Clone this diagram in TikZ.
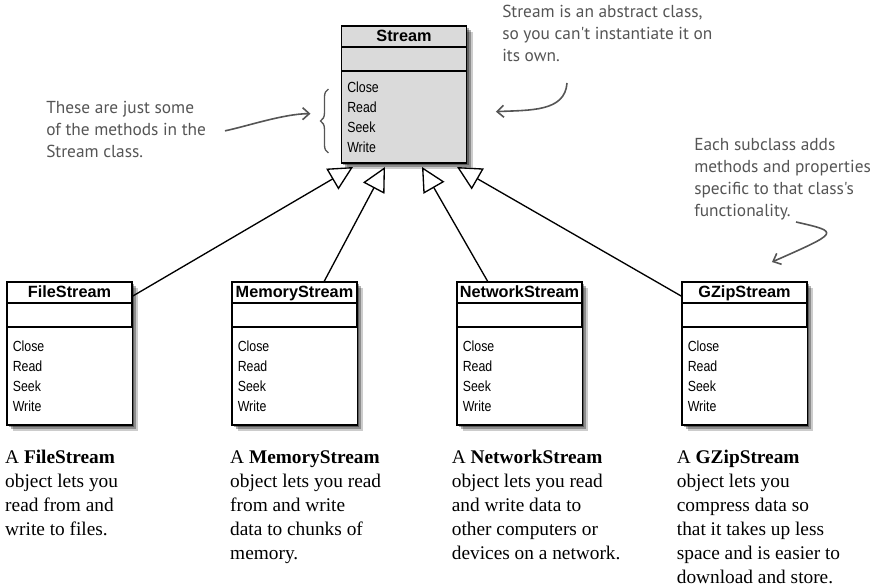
\documentclass[tikz,border=0pt]{standalone}
\usepackage{fontspec}
\setmainfont{Liberation Serif}
\newfontfamily\umlsans{Liberation Sans}
\newfontfamily\umlnarrow[FakeStretch=0.84]{Liberation Sans}
\newfontfamily\handfont{PT Sans}
\usepackage{xcolor}
\usepackage{tikz}
\usetikzlibrary{arrows.meta,positioning,shadows,decorations.pathreplacing}
\definecolor{streamgray}{RGB}{218,218,218}
\definecolor{pencil}{RGB}{85,85,85}

\begin{document}
\begin{tikzpicture}[x=0.75pt,y=-0.75pt,
  shadowed/.style={drop shadow={shadow xshift=4.5pt,shadow yshift=-4.5pt,opacity=0.2,fill=black},
                   drop shadow={shadow xshift=3pt,shadow yshift=-3pt,opacity=0.3,fill=black},
                   drop shadow={shadow xshift=1.5pt,shadow yshift=-1.5pt,opacity=0.35,fill=black}},
  clshead/.style={rectangle,draw,line width=0.8pt,outer sep=0pt,inner sep=0pt,fill=white,shadowed,minimum width=93.75pt,minimum height=15.75pt,text height=9pt,text depth=0.8pt,font=\umlsans\fontsize{12.2}{13}\selectfont\bfseries},
  clsattr/.style={clshead,minimum height=18pt,font=},
  clsops/.style={clshead,minimum height=73.5pt,text height=,text depth=,text width=85pt,inner xsep=4.4pt,align=left,font=\umlnarrow\fontsize{11}{15}\selectfont},
  desc/.style={inner sep=0pt,align=left,font=\fontsize{14.5}{18}\selectfont},
  note/.style={inner sep=0pt,align=left,text=pencil,font=\handfont\fontsize{13}{16.5}\selectfont},
  inherit/.style={-{Triangle[open,length=18pt,width=18pt]},line width=1pt},
  pointer/.style={-{Straight Barb[length=5pt,width=9pt]},draw=pencil,line width=1.2pt}
]
\useasboundingbox (0,0) rectangle (883,588);

\node[clshead,fill=streamgray,anchor=north] (stream) at (404,26) {Stream};
\node[clsattr,fill=streamgray,below=0pt of stream] (streamattr) {};
\node[clsops,fill=streamgray,minimum height=69pt,below=0pt of streamattr] (streamops) {Close\\Read\\Seek\\Write};

\node[clshead,anchor=north] (file) at (69.5,282) {FileStream};
\node[clsattr,below=0pt of file] (fileattr) {};
\node[clsops,below=0pt of fileattr] (fileops) {Close\\Read\\Seek\\Write};

\node[clshead,right=75pt of file] (memory) {MemoryStream};
\node[clsattr,below=0pt of memory] (memoryattr) {};
\node[clsops,below=0pt of memoryattr] (memoryops) {Close\\Read\\Seek\\Write};

\node[clshead,right=75pt of memory] (network) {NetworkStream};
\node[clsattr,below=0pt of network] (networkattr) {};
\node[clsops,below=0pt of networkattr] (networkops) {Close\\Read\\Seek\\Write};

\node[clshead,right=75pt of network] (gzip) {GZipStream};
\node[clsattr,below=0pt of gzip] (gzipattr) {};
\node[clsops,below=0pt of gzipattr] (gzipops) {Close\\Read\\Seek\\Write};

\draw[inherit] ([yshift=-3pt]file.east) -- ([xshift=-38.25pt,yshift=-3pt]streamops.south);
\draw[inherit] ([xshift=22pt]memory.north) -- ([xshift=-14.25pt,yshift=-3pt]streamops.south);
\draw[inherit] ([xshift=-23.6pt]network.north) -- ([xshift=13.5pt,yshift=-3pt]streamops.south);
\draw[inherit] ([yshift=-3pt]gzip.west) -- ([xshift=39.75pt,yshift=-3pt]streamops.south);

\node[desc,below right=18.75pt and -1.5pt of fileops.south west] (filedesc) {A \textbf{FileStream}\\object lets you\\read from and\\write to files.};
\node[desc,below right=18.75pt and -1.5pt of memoryops.south west] (memorydesc) {A \textbf{MemoryStream}\\object lets you read\\from and write\\data to chunks of\\memory.};
\node[desc,below right=18.75pt and -4pt of networkops.south west] (networkdesc) {A \textbf{NetworkStream}\\object lets you read\\and write data to\\other computers or\\devices on a network.};
\node[desc,below right=18.75pt and -4pt of gzipops.south west] (gzipdesc) {A \textbf{GZipStream}\\object lets you\\compress data so\\that it takes up less\\space and is easier to\\download and store.};

\node[note,anchor=north west] (methodsnote) at (46,101) {These are just some\\of the methods in the\\Stream class.};
\node[note,anchor=north west] (abstractnote) at (502,5) {Stream is an abstract class,\\so you can't instantiate it on\\its own.};
\node[note,anchor=north west] (subclassnote) at (694,138) {Each subclass adds\\methods and properties\\specific to that class's\\functionality.};

\draw[pencil,line width=1pt,decorate,decoration={brace,amplitude=6pt}] ([xshift=-9.75pt,yshift=-61.5pt]streamops.north west) -- ([xshift=-9.75pt,yshift=-13.5pt]streamops.north west);
\coordinate (bracetip) at ([xshift=-23.25pt,yshift=-32pt]streamops.north west);
\draw[pointer] ([xshift=14pt,yshift=-1pt]methodsnote.east) .. controls +(15pt,3pt) and +(-20pt,0pt) .. (bracetip);

\coordinate (abstracttail) at (567,83);
\coordinate (abstracthead) at ([xshift=22pt,yshift=4pt]streamops.east);
\draw[pointer] (abstracttail) .. controls (565,112) and (530,110) .. (abstracthead);

\coordinate (subclasstail) at (796,222);
\coordinate (subclasshead) at ([xshift=20.6pt,yshift=15pt]gzip.north);
\draw[pointer] (subclasstail) .. controls (840,232) .. (subclasshead);
\end{tikzpicture}
\end{document}
